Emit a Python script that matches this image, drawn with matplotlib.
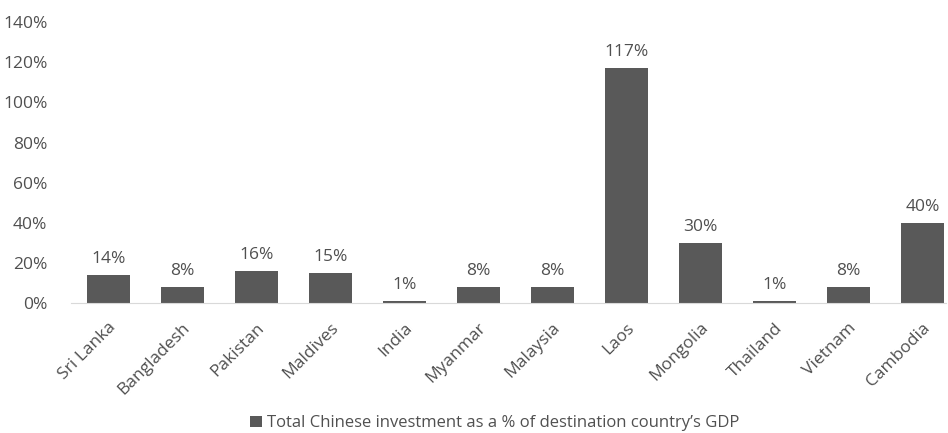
import matplotlib.pyplot as plt
from matplotlib.patches import Patch

countries = ["Sri Lanka", "Bangladesh", "Pakistan", "Maldives", "India", "Myanmar",
             "Malaysia", "Laos", "Mongolia", "Thailand", "Vietnam", "Cambodia"]
share_of_gdp = [14, 8, 16, 15, 1, 8, 8, 117, 30, 1, 8, 40]
y_ticks = [0, 20, 40, 60, 80, 100, 120, 140]
legend_label = "Total Chinese investment as a % of destination country\u2019s GDP"

plt.rcParams['font.family'] = ['Open Sans', 'DejaVu Sans']
text_color = "#505050"
bar_color = "#595959"

fig = plt.figure(figsize=(9.48, 4.33), dpi=100)
ax = fig.add_axes([0.075, 0.300, 0.923, 0.649])

x = range(len(countries))
bars = ax.bar(x, share_of_gdp, width=0.58, color=bar_color)

for xi, v in zip(x, share_of_gdp):
    ax.text(xi, v + 4, f"{v}%", ha="center", va="bottom", fontsize=12.5, color=text_color)

ax.set_ylim(0, 140)
ax.set_xlim(-0.5, 11.32)
ax.set_yticks(y_ticks)
ax.set_yticklabels([f"{t}%" for t in y_ticks], fontsize=12.5, color=text_color)
ax.set_xticks(list(x))
ax.set_xticklabels(countries, rotation=45, ha="right", rotation_mode="anchor",
                   fontsize=12.5, color=text_color)
ax.tick_params(axis="both", length=0)
ax.tick_params(axis="y", pad=17)
ax.tick_params(axis="x", pad=12)

for side in ["top", "right", "left"]:
    ax.spines[side].set_visible(False)
ax.spines["bottom"].set_color("#d9d9d9")

fig.legend(handles=[Patch(facecolor=bar_color, label=legend_label)],
           loc="center", bbox_to_anchor=(0.522, 0.022), frameon=False,
           fontsize=12, labelcolor=text_color, handlelength=0.7, handleheight=0.7,
           handletextpad=0.3)

fig.savefig("out.png", dpi=100)
